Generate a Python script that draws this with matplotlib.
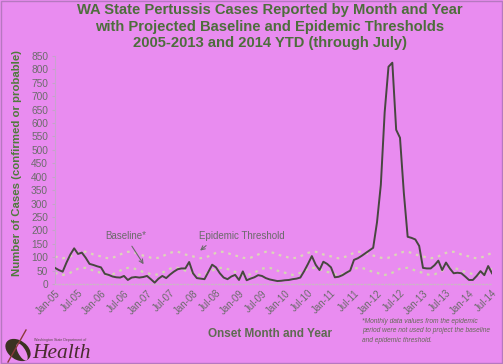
import matplotlib
matplotlib.use("Agg")
import matplotlib.pyplot as plt
from matplotlib.patches import Rectangle, Ellipse
from matplotlib.lines import Line2D

# ---------------- data ----------------
tick_labels = ["Jan-05", "Jul-05", "Jan-06", "Jul-06", "Jan-07", "Jul-07", "Jan-08", "Jul-08",
               "Jan-09", "Jul-09", "Jan-10", "Jul-10", "Jan-11", "Jul-11", "Jan-12", "Jul-12",
               "Jan-13", "Jul-13", "Jan-14", "Jul-14"]

cases = [
    60, 52, 46, 80, 110, 133, 112, 117, 98, 75, 71, 66,          # 2005
    62, 38, 34, 28, 25, 24, 30, 15, 24, 26, 24, 26,              # 2006
    30, 18, 5, 20, 30, 22, 35, 46, 55, 58, 58, 82,               # 2007
    40, 22, 20, 18, 45, 72, 62, 40, 24, 18, 28, 34,              # 2008
    15, 47, 14, 20, 25, 33, 30, 22, 17, 14, 11, 12,              # 2009
    14, 15, 18, 20, 24, 48, 75, 104, 72, 52, 83, 75,             # 2010
    62, 25, 27, 33, 42, 50, 90, 96, 105, 115, 125, 135,          # 2011
    230, 370, 640, 810, 825, 575, 545, 340, 176, 172, 166, 142,  # 2012
    60, 58, 58, 70, 87, 52, 80, 58, 40, 42, 40, 28,              # 2013
    15, 15, 30, 48, 33, 67, 40,                                  # 2014 YTD
]

baseline = [
    42, 36, 34, 36, 42, 50, 57, 60, 60, 56, 50, 45,
    42, 36, 34, 36, 42, 50, 57, 60, 60, 56, 50, 45,
    42, 36, 34, 36, 42, 50, 57, 60, 60, 56, 50, 45,
    42, 36, 34, 36, 42, 50, 57, 60, 60, 56, 50, 45,
    42, 36, 34, 36, 42, 50, 57, 60, 60, 56, 50, 45,
    42, 36, 34, 36, 42, 50, 57, 60, 60, 56, 50, 45,
    42, 36, 34, 36, 42, 50, 57, 60, 60, 56, 50, 45,
    42, 36, 34, 36, 42, 50, 57, 60, 60, 56, 50, 45,
    42, 36, 34, 36, 42, 50, 57, 60, 60, 56, 50, 45,
    42, 36, 34, 36, 42, 50, 57,
]

threshold = [
    103, 98, 96, 98, 103, 110, 116, 120, 120, 116, 110, 106,
    103, 98, 96, 98, 103, 110, 116, 120, 120, 116, 110, 106,
    103, 98, 96, 98, 103, 110, 116, 120, 120, 116, 110, 106,
    103, 98, 96, 98, 103, 110, 116, 120, 120, 116, 110, 106,
    103, 98, 96, 98, 103, 110, 116, 120, 120, 116, 110, 106,
    103, 98, 96, 98, 103, 110, 116, 120, 120, 116, 110, 106,
    103, 98, 96, 98, 103, 110, 116, 120, 120, 116, 110, 106,
    103, 98, 96, 98, 103, 110, 116, 120, 120, 116, 110, 106,
    103, 98, 96, 98, 103, 110, 116, 120, 120, 116, 110, 106,
    103, 98, 96, 98, 103, 110, 116,
]

months = list(range(len(cases)))
tick_pos = list(range(0, len(cases), 6))

# ---------------- style ----------------
plt.rcParams['font.family'] = ['Liberation Sans', 'DejaVu Sans']
BG = '#e98cf0'
GREEN = '#4d6e3c'
GRAY = '#6c6c6c'

fig = plt.figure(figsize=(5.03, 3.64), dpi=100, facecolor=BG)
ax = fig.add_axes([55/503, (364-284)/364, 437/503, 228/364])
ax.set_facecolor(BG)

ax.plot(months, threshold, color='#dcd6b8', lw=1.6, ls=(0, (1.2, 2.2)), zorder=2)
ax.plot(months, baseline, color='#d2d8b0', lw=1.6, ls=(0, (1.2, 2.2)), zorder=2)
ax.plot(months, cases, color='#47473f', lw=1.4, zorder=3, solid_joinstyle='round')

ax.set_xlim(0, len(cases) - 1)
ax.set_ylim(0, 850)
ax.set_yticks(range(0, 851, 50))
ax.set_xticks(tick_pos)
ax.set_xticklabels(tick_labels, rotation=45, ha='right', va='top', rotation_mode='anchor')
ax.tick_params(axis='y', labelsize=7.3, colors=GRAY, length=2, pad=3, color='#c8a0cc')
ax.tick_params(axis='x', labelsize=7, colors=GRAY, length=0, pad=3)

for s in ['top', 'right']:
    ax.spines[s].set_visible(False)
ax.spines['left'].set_color('#c9a3cf')
ax.spines['left'].set_linewidth(0.8)
ax.spines['bottom'].set_color('#cdb4c8')
ax.spines['bottom'].set_linestyle((0, (1, 1.5)))
ax.spines['bottom'].set_linewidth(1.0)

ax.set_ylabel('Number of Cases (confirmed or probable)', fontsize=8.2, fontweight='bold',
              color='#4f7a3c')
ax.yaxis.set_label_coords(-0.076, 0.53)

# annotations
ax.annotate('Baseline*', xy=(23.5, 65), xytext=(13, 160), fontsize=7, color='#6a6a6a',
            arrowprops=dict(arrowstyle='->', color='#6a6a6a', lw=0.8), va='bottom')
ax.annotate('Epidemic Threshold', xy=(37.3, 118), xytext=(37.5, 160), fontsize=7, color='#6a6a6a',
            arrowprops=dict(arrowstyle='->', color='#6a6a6a', lw=0.8,
                            relpos=(0.15, 0.0)), va='bottom')

# titles and texts
TS = 10.6
fig.text(0.536, 1 - 10/364, 'WA State Pertussis Cases Reported by Month and Year', ha='center', va='center',
         fontsize=TS, fontweight='bold', color=GREEN)
fig.text(0.536, 1 - 27/364, 'with Projected Baseline and Epidemic Thresholds', ha='center', va='center',
         fontsize=TS, fontweight='bold', color=GREEN)
fig.text(0.536, 1 - 43.5/364, '2005-2013 and 2014 YTD (through July)', ha='center', va='center',
         fontsize=TS, fontweight='bold', color=GREEN)

fig.text(270/503, 1 - 334/364, 'Onset Month and Year', ha='center', va='center',
         fontsize=8.5, fontweight='bold', color='#5f6b52')

fig.text(362/503, 1 - 331/364,
         '*Monthly data values from the epidemic\nperiod were not used to project the baseline\nand epidemic threshold.',
         ha='left', va='center', fontsize=4.8, style='italic', color='#656a58', linespacing=1.45)

# logo
fig.text(34/503, 1 - 340/364, 'Washington State Department of', fontsize=2.6, color='#5a4a4a',
         ha='left', va='center')
fig.text(32/503, 1 - 354/364, 'Health', fontsize=15.5, family=['Liberation Serif', 'DejaVu Serif'],
         style='italic', color='#4a2c30', ha='left', va='center')
fig.patches.append(Ellipse((18/503, 1 - 350/364), 22/503, 24/364, angle=30,
                           transform=fig.transFigure, facecolor='#3b3222', edgecolor='none'))
fig.patches.append(Ellipse((22/503, 1 - 352/364), 8/503, 18/364, angle=20,
                           transform=fig.transFigure, facecolor=BG, edgecolor='none'))
fig.lines.append(Line2D([8/503, 26/503], [1 - 362/364, 1 - 330/364], transform=fig.transFigure,
                        color='#8a3a3a', lw=1.0))

# outer frame
fig.patches.append(Rectangle((0.001, 0.002), 0.997, 0.996, transform=fig.transFigure,
                             facecolor='none', edgecolor='#b678c0', lw=1.0))

fig.savefig('out.png', dpi=100, facecolor=BG)
